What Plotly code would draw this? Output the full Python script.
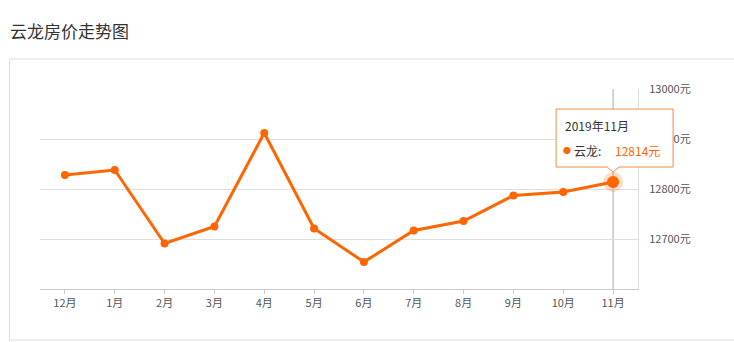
import plotly.graph_objects as go

months = ["12月", "1月", "2月", "3月", "4月", "5月", "6月", "7月", "8月", "9月", "10月", "11月"]
prices = [12828, 12838, 12691, 12725, 12912, 12721, 12654, 12717, 12736, 12787, 12794, 12814]
y_ticks = [12700, 12800, 12900, 13000]
y_tick_labels = ["12700元", "12800元", "12900元", "13000元"]
series_name = "云龙"
tip_title = "2019年11月"
title_text = "云龙房价走势图"

W, H = 734, 342
ML, MR, MT, MB = 40, 96, 89, 53
PW, PH = W - ML - MR, H - MT - MB
YMIN, YMAX = 12600, 13000
FONT = "Noto Sans CJK SC, Noto Sans, sans-serif"
ORANGE = "#ff6600"

def px_x(v):
    return ML + (v + 0.5) / len(months) * PW

def px_y(v):
    return MT + (YMAX - v) / (YMAX - YMIN) * PH

def to_px(x):
    return (x - ML) / PW

def to_py(y):
    return (MT + PH - y) / PH

xs = list(range(len(months)))
fig = go.Figure()
fig.add_trace(go.Scatter(x=xs, y=prices, mode="lines+markers",
                         line=dict(color=ORANGE, width=3),
                         marker=dict(size=8, color=ORANGE),
                         cliponaxis=False, hoverinfo="skip"))
last = len(prices) - 1
fig.add_trace(go.Scatter(x=[xs[last]], y=[prices[last]], mode="markers",
                         marker=dict(size=20, color="rgba(255,102,0,0.22)"),
                         cliponaxis=False, hoverinfo="skip"))
fig.add_trace(go.Scatter(x=[xs[last]], y=[prices[last]], mode="markers",
                         marker=dict(size=12, color=ORANGE),
                         cliponaxis=False, hoverinfo="skip"))

shapes = []
# outer card
shapes.append(dict(type="rect", xref="paper", yref="paper",
                   x0=to_px(9.5), x1=to_px(760), y0=to_py(340), y1=to_py(59),
                   line=dict(color="#dddddd", width=1), fillcolor="rgba(0,0,0,0)", layer="below"))
# crosshair
shapes.append(dict(type="line", xref="x", yref="y", x0=xs[last], x1=xs[last], y0=YMIN, y1=YMAX,
                   line=dict(color="#aaaaaa", width=1), layer="below"))
# tooltip box
cx, cy = px_x(xs[last]), px_y(prices[last])
bl, br, bt, bb = cx - 57, cx + 60, cy - 73, cy - 15
tip = cy - 10
path = (f"M {to_px(bl)},{to_py(bt)} L {to_px(br)},{to_py(bt)} L {to_px(br)},{to_py(bb)} "
        f"L {to_px(cx+6)},{to_py(bb)} L {to_px(cx)},{to_py(tip)} L {to_px(cx-6)},{to_py(bb)} "
        f"L {to_px(bl)},{to_py(bb)} Z")
shapes.append(dict(type="path", xref="paper", yref="paper", path=path,
                   line=dict(color="#f08a4b", width=1), fillcolor="white"))

annotations = [
    dict(xref="paper", yref="paper", x=to_px(bl + 7), y=to_py(bt + 16), xanchor="left", yanchor="middle",
         text=tip_title, showarrow=False, font=dict(family=FONT, size=12, color="#333333")),
    dict(xref="paper", yref="paper", x=to_px(bl + 5), y=to_py(bt + 41), xanchor="left", yanchor="middle",
         text="●", showarrow=False, font=dict(family=FONT, size=8, color=ORANGE)),
    dict(xref="paper", yref="paper", x=to_px(bl + 16), y=to_py(bt + 41), xanchor="left", yanchor="middle",
         text=f"{series_name}:", showarrow=False, font=dict(family=FONT, size=12, color="#333333")),
    dict(xref="paper", yref="paper", x=to_px(bl + 57), y=to_py(bt + 41), xanchor="left", yanchor="middle",
         text=f"{prices[last]}元", showarrow=False, font=dict(family=FONT, size=12, color=ORANGE)),
]

fig.update_layout(
    width=W, height=H,
    margin=dict(l=ML, r=MR, t=MT, b=MB),
    paper_bgcolor="white", plot_bgcolor="white",
    showlegend=False,
    title=dict(text=title_text, x=10 / W, xanchor="left", xref="container",
               y=1 - 32 / H, yanchor="middle", yref="container",
               font=dict(family=FONT, size=17, color="#333333")),
    xaxis=dict(range=[-0.5, len(months) - 0.5], tickvals=xs, ticktext=months,
               showgrid=False, zeroline=False, showline=True, linecolor="#cccccc", linewidth=1,
               ticks="outside", ticklen=4, tickcolor="#cccccc",
               tickfont=dict(family=FONT, size=11, color="#555555"), fixedrange=True),
    yaxis=dict(range=[YMIN, YMAX], side="right", tickvals=y_ticks, ticktext=y_tick_labels,
               showgrid=True, gridcolor="#dedede", gridwidth=1, zeroline=False,
               showline=True, linecolor="#dddddd", linewidth=1, ticks="",
               ticklabelstandoff=8,
               tickfont=dict(family=FONT, size=11, color="#555555"), fixedrange=True),
    shapes=shapes, annotations=annotations,
)

fig.write_html("out.html")
